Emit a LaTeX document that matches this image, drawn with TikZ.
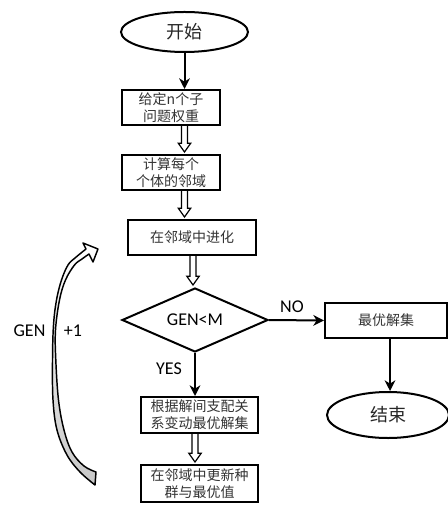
\documentclass[tikz,border=0pt]{standalone}
\usepackage{fontspec}
\setmainfont{Carlito}
\newfontfamily\cjk{Noto Sans CJK SC}
\usetikzlibrary{shapes.geometric,arrows.meta,calc}

\begin{document}
\begin{tikzpicture}[x=0.75pt,y=-0.75pt,
  every node/.style={inner sep=0pt},
  box/.style={draw,line width=1.5pt,rectangle,align=center,
    font=\cjk\fontsize{10.5}{12.75}\selectfont,text=black!80},
  term/.style={draw,line width=1.5pt,ellipse,
    font=\cjk\fontsize{13.5}{16}\selectfont,text=black!85},
  cond/.style={draw,line width=1.5pt,diamond,aspect=2.28,
    font=\fontsize{13.5}{16}\selectfont},
  lbl/.style={font=\fontsize{13.5}{16}\selectfont},
  arr/.style={line width=1.5pt,-{Stealth[length=8pt,width=8pt,inset=2.5pt]}},
  hollow/.style={line width=0.9pt,to path={
    let \p1=(\tikztostart), \p2=(\tikztotarget) in
    (\x1-2.3pt,\y1) -- (\x1-2.3pt,\y2+8pt) -- (\x1-4.6pt,\y2+8pt)
    -- (\x1,\y2+1.5pt) -- (\x1+4.6pt,\y2+8pt) -- (\x1+2.3pt,\y2+8pt)
    -- (\x1+2.3pt,\y1)}}
]
\useasboundingbox (0,0) rectangle (448,505);

% terminals
\node[term,minimum width=95.25pt,minimum height=30pt] (start) at (184.5,32) {开始};
\node[term,minimum width=91.5pt,minimum height=34.5pt] (stop) at (388,415) {结束};

% process boxes
\node[box,minimum width=73.5pt,minimum height=26.25pt] (b1) at (171,107.5) {给定n个子\\问题权重};
\node[box,minimum width=73.5pt,minimum height=26.25pt] (b2) at (171,172.5) {计算每个\\个体的邻域};
\node[box,minimum width=96pt,minimum height=26.25pt] (b3) at (192,237.5) {在邻域中进化};
\node[cond,minimum width=109.5pt,minimum height=48pt] (dia) at (195,320) {GEN<M};
\node[box,minimum width=91.5pt,minimum height=26.25pt] (best) at (386,320.5) {最优解集};
\node[box,minimum width=87.75pt,minimum height=27pt] (b4) at (199.5,415) {根据解间支配关\\系变动最优解集};
\node[box,minimum width=87.75pt,minimum height=27.75pt] (b5) at (199.5,483.5) {在邻域中更新种\\群与最优值};

% connectors
\draw[arr] (start.south) -- (b1.north -| start.south);
\draw[hollow] (b1.south -| start.south) to (b2.north -| start.south);
\draw[hollow] (b2.south -| start.south) to (b3.north -| start.south);
\draw[hollow] (b3.south -| dia.north) ++(-2,0) coordinate (h3) (h3) to (dia.north);
\draw[arr] (dia.east) -- (best.west);
\draw[arr] (dia.south) -- (b4.north -| dia.south);
\draw[hollow] (b4.south -| dia.south) to (b5.north -| dia.south);
\draw[arr] (best.south -| stop.north) ++(2,0) coordinate (bs) (bs) -- (stop.north -| bs);

% branch labels
\node[lbl] (no) at (292,306.5) {NO};
\node[lbl] (yes) at (169,369) {YES};

% loop-back block arrow
\shade[draw,line width=1.1pt,line join=round,
  top color=white,middle color=white,bottom color=black!22]
  (86,249) -- plot[smooth,tension=0.6] coordinates {(86,249) (75,258) (68,265)
    (61.5,280) (56.5,300) (53.5,325) (52.5,360) (53,400) (57,430) (67,455)
    (80,472) (95,485)}
  -- (96,472)
  -- plot[smooth,tension=0.6] coordinates {(96,472) (84,466) (72,452) (64,430)
    (58.5,400) (55.8,360) (55.5,330) (59.5,300) (65.5,280) (74.5,265) (82,259) (89,254)}
  -- (93,262) -- (98,249) -- (83,243) -- cycle;
\node[lbl] (gen) at (29.5,331) {GEN};
\node[lbl] (plus) at (73,331) {+1};
\end{tikzpicture}
\end{document}
